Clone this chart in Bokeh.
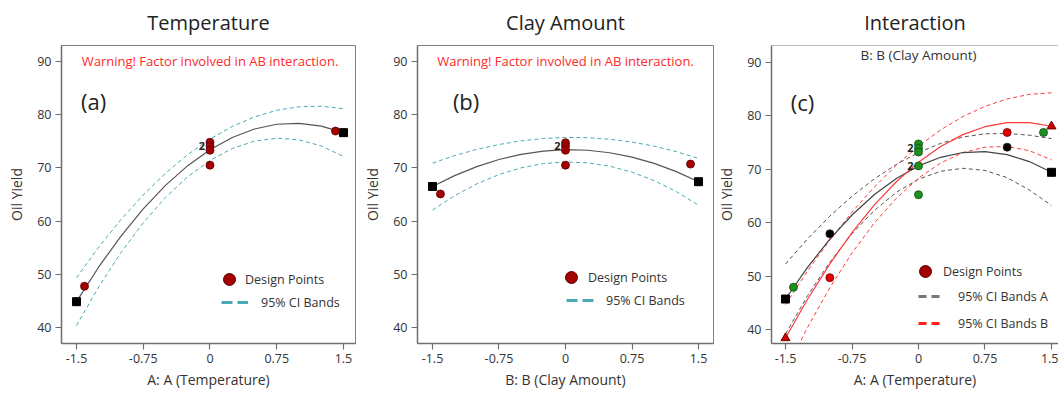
from bokeh.plotting import figure
from bokeh.layouts import row
from bokeh.models import Range1d, FixedTicker, Label, Legend, LegendItem, Span
from bokeh.core.properties import value
from bokeh.embed import file_html
from bokeh.resources import INLINE

FONT = "Open Sans"
NAN = float("nan")

# ---------------- data ----------------
x_grid = [-1.5, -1.25, -1.0, -0.75, -0.5, -0.25, 0.0, 0.25, 0.5, 0.75, 1.0, 1.25, 1.5]
x_ticks = [-1.5, -0.75, 0, 0.75, 1.5]
x_tick_labels = ["-1.5", "-0.75", "0", "0.75", "1.5"]
y_ticks = [40, 50, 60, 70, 80, 90]

# Panel (a) Temperature
a_fit = [44.90, 51.41, 57.21, 62.31, 66.71, 70.41, 73.40, 75.69, 77.28, 78.17, 78.35, 77.83, 76.61]
a_upper = [49.38, 55.13, 60.31, 64.93, 68.99, 72.48, 75.40, 77.76, 79.56, 80.79, 81.45, 81.55, 81.09]
a_lower = [40.43, 47.69, 54.11, 59.69, 64.44, 68.34, 71.40, 73.62, 75.01, 75.55, 75.25, 74.11, 72.14]
a_pts_x = [-1.41, 0, 0, 0, 0, 1.41]
a_pts_y = [47.8, 74.8, 74.1, 73.3, 70.5, 76.9]
a_end_x = [-1.5, 1.5]
a_end_y = [44.9, 76.6]
a_rep_x = [0]
a_rep_y = [74.1]
a_rep_n = ["2"]

# Panel (b) Clay Amount
b_fit = [66.49, 68.54, 70.23, 71.56, 72.53, 73.15, 73.40, 73.30, 72.83, 72.01, 70.83, 69.29, 67.39]
b_upper = [70.88, 72.29, 73.46, 74.38, 75.06, 75.51, 75.70, 75.66, 75.36, 74.83, 74.06, 73.04, 71.78]
b_lower = [62.10, 64.79, 67.00, 68.74, 70.00, 70.79, 71.10, 70.94, 70.30, 69.19, 67.60, 65.54, 63.00]
b_pts_x = [-1.41, 0, 0, 0, 0, 1.41]
b_pts_y = [65.1, 74.7, 74.1, 73.3, 70.5, 70.7]
b_end_x = [-1.5, 1.5]
b_end_y = [66.5, 67.4]
b_rep_x = [0]
b_rep_y = [74.1]
b_rep_n = ["2"]

# Panel (c) Interaction (black = B low, red = B high)
c_lo_fit = [45.70, 51.66, 56.90, 61.41, 65.20, 68.26, 70.60, 72.21, 73.10, 73.26, 72.70, 71.41, 69.40]
c_lo_upper = [52.25, 56.97, 61.20, 64.92, 68.15, 70.87, 73.10, 74.82, 76.00, 76.60, 76.65, 76.35, 75.70]
c_lo_lower = [39.15, 46.35, 52.60, 57.90, 62.25, 65.65, 68.10, 69.60, 70.15, 69.75, 68.40, 66.10, 63.20]
c_hi_fit = [38.41, 45.71, 52.28, 58.13, 63.25, 67.64, 71.30, 74.24, 76.45, 77.93, 78.68, 78.71, 78.01]
c_hi_upper = [44.67, 50.98, 56.73, 61.95, 66.61, 70.73, 74.30, 77.33, 79.81, 81.75, 83.13, 83.98, 84.27]
c_hi_lower = [32.15, 40.44, 47.83, 54.31, 59.89, 64.55, 68.30, 71.15, 73.09, 74.11, 74.23, 73.44, 71.75]
c_black_x = [-1.0, 1.0]
c_black_y = [57.9, 74.1]
c_red_x = [-1.0, 1.0]
c_red_y = [49.7, 76.85]
c_green_x = [-1.41, 0, 0, 0, 0, 0, 1.41]
c_green_y = [47.9, 74.7, 73.9, 73.2, 70.6, 65.2, 76.85]
c_sq_x = [-1.5, 1.5]
c_sq_y = [45.7, 69.4]
c_tri_x = [-1.5, 1.5]
c_tri_y = [38.4, 78.0]
c_rep_x = [0, 0]
c_rep_y = [73.9, 70.6]
c_rep_n = ["2", "2"]

# ---------------- styling ----------------
DARKRED = "#a50000"
TEAL = "#4aa9b6"
AXIS = "#6e6e6e"
TXT = "#333333"
WARN = "#ff2a2a"


def make_fig(width, left, right, xr, yr, title, xlabel):
    p = figure(width=width, height=393, x_range=Range1d(*xr), y_range=Range1d(*yr),
               output_backend="svg", toolbar_location=None,
               min_border_left=left, min_border_right=right,
               min_border_top=45, min_border_bottom=50)
    p.title.text = title
    p.title.align = "center"
    p.title.vertical_align = "top"
    p.title.standoff = 16
    p.title.text_font = FONT
    p.title.text_font_size = "20px"
    p.title.text_font_style = "normal"
    p.title.text_color = "#222222"
    p.xgrid.visible = False
    p.ygrid.visible = False
    p.outline_line_color = "#808080"
    p.outline_line_width = 1
    p.background_fill_color = "white"
    p.border_fill_color = "white"
    for ax in (p.xaxis[0], p.yaxis[0]):
        ax.axis_line_color = AXIS
        ax.axis_line_width = 1.5
        ax.major_tick_line_color = AXIS
        ax.major_tick_line_width = 1.2
        ax.major_tick_out = 6
        ax.major_tick_in = 0
        ax.minor_tick_line_color = None
        ax.major_label_text_font = FONT
        ax.major_label_text_font_size = "12.5px"
        ax.major_label_text_color = TXT
        ax.major_label_standoff = 4
        ax.axis_label_text_font = FONT
        ax.axis_label_text_font_size = "14px"
        ax.axis_label_text_font_style = "normal"
        ax.axis_label_text_color = TXT
    p.xaxis.ticker = FixedTicker(ticks=x_ticks)
    p.xaxis.major_label_overrides = {t: s for t, s in zip(x_ticks, x_tick_labels)}
    p.yaxis.ticker = FixedTicker(ticks=y_ticks)
    p.xaxis.axis_label = xlabel
    p.yaxis.axis_label = "Oil Yield"
    p.xaxis.axis_label_standoff = 4
    p.yaxis.axis_label_standoff = 8
    return p


def add_legend(p, renderer, label, loc, gw, gh, standoff):
    lg = Legend(items=[LegendItem(label=label, renderers=[renderer])], location=loc,
                glyph_width=gw, glyph_height=gh, label_standoff=standoff,
                padding=0, margin=0, spacing=0, border_line_color=None,
                background_fill_alpha=0, label_text_font=FONT,
                label_text_font_size="12.5px", label_text_color=TXT, label_height=20)
    p.add_layout(lg)


def legend_dot(p, fill, line):
    # swatch-only renderer: a single NaN point, never drawn in the plot area
    return p.scatter([NAN], [NAN], marker="circle", fill_color=fill, line_color=line, line_width=1)


def legend_dash(p, color, dash):
    return p.line([NAN, NAN], [NAN, NAN], line_color=color, line_width=3, line_dash=dash)


def design_points(p, xs, ys, fill, line):
    p.scatter(xs, ys, marker="circle", size=8, fill_color=fill, line_color=line, line_width=0.8)


def rep_labels(p, xs, ys, ns):
    p.text(xs, ys, text=ns, text_align="right", text_baseline="middle", x_offset=-5,
           text_font=value(FONT), text_font_style="bold", text_font_size="11px", text_color="#222222")


def warning(p):
    p.add_layout(Label(x=0, y=90.1, text="Warning! Factor involved in AB interaction.",
                       text_align="center", text_baseline="middle", text_color=WARN,
                       text_font=FONT, text_font_size="13px"))


def tag(p, x, y, t):
    p.add_layout(Label(x=x, y=y, text=t, text_align="left", text_baseline="middle",
                       text_color="#222222", text_font=FONT, text_font_size="22px"))


# ---------------- panel (a) ----------------
pa = make_fig(356, 61, 1, (-1.6685, 1.635), (37.06, 92.94), "Temperature", "A: A (Temperature)")
pa.line(x_grid, a_upper, line_color=TEAL, line_width=1, line_dash="4 3")
pa.line(x_grid, a_lower, line_color=TEAL, line_width=1, line_dash="4 3")
pa.line(x_grid, a_fit, line_color="#555555", line_width=1.2)
pa.scatter(a_end_x, a_end_y, marker="square", size=8, fill_color="black", line_color="black")
design_points(pa, a_pts_x, a_pts_y, DARKRED, "#5a0000")
rep_labels(pa, a_rep_x, a_rep_y, a_rep_n)
warning(pa)
tag(pa, -1.45, 82.6, "(a)")
add_legend(pa, legend_dot(pa, DARKRED, "#5a0000"), "Design Points", (153, 49), 30, 30, 1)
add_legend(pa, legend_dash(pa, TEAL, "11 5"), "95% CI Bands", (160, 31), 27, 20, 13)

# ---------------- panel (b) ----------------
pb = make_fig(358, 61, 1, (-1.669, 1.669), (37.06, 92.94), "Clay Amount", "B: B (Clay Amount)")
pb.line(x_grid, b_upper, line_color=TEAL, line_width=1, line_dash="4 3")
pb.line(x_grid, b_lower, line_color=TEAL, line_width=1, line_dash="4 3")
pb.line(x_grid, b_fit, line_color="#555555", line_width=1.2)
pb.scatter(b_end_x, b_end_y, marker="square", size=8, fill_color="black", line_color="black")
design_points(pb, b_pts_x, b_pts_y, DARKRED, "#5a0000")
rep_labels(pb, b_rep_x, b_rep_y, b_rep_n)
warning(pb)
tag(pb, -1.27, 82.6, "(b)")
add_legend(pb, legend_dot(pb, DARKRED, "#5a0000"), "Design Points", (139, 51), 30, 30, 2)
add_legend(pb, legend_dash(pb, TEAL, "11 5"), "95% CI Bands", (149, 33), 28, 20, 12)

# ---------------- panel (c) ----------------
C_TOP = 93.12
pc = make_fig(344, 57, 0, (-1.658, 1.579), (37.38, C_TOP), "Interaction", "A: A (Temperature)")
pc.title.offset = -10
pc.outline_line_color = None
pc.add_layout(Span(location=C_TOP, dimension="width", line_color="#808080", line_width=1))
BLKD = "#555555"
REDL = "#ff3b3b"
pc.line(x_grid, c_lo_upper, line_color=BLKD, line_width=1, line_dash="4 3")
pc.line(x_grid, c_lo_lower, line_color=BLKD, line_width=1, line_dash="4 3")
pc.line(x_grid, c_hi_upper, line_color=REDL, line_width=1, line_dash="4 3")
pc.line(x_grid, c_hi_lower, line_color=REDL, line_width=1, line_dash="4 3")
pc.line(x_grid, c_lo_fit, line_color="#444444", line_width=1.2)
pc.line(x_grid, c_hi_fit, line_color=REDL, line_width=1.2)
pc.scatter(c_sq_x, c_sq_y, marker="square", size=8, fill_color="black", line_color="black")
pc.scatter(c_tri_x, c_tri_y, marker="triangle", size=9, fill_color="#d00000", line_color="#7a0000")
design_points(pc, c_black_x, c_black_y, "black", "#222222")
design_points(pc, c_red_x, c_red_y, "#e00000", "#7a0000")
design_points(pc, c_green_x, c_green_y, "#1f8f1f", "#0b4d0b")
rep_labels(pc, c_rep_x, c_rep_y, c_rep_n)
pc.add_layout(Label(x=0, y=91.25, text="B: B (Clay Amount)", text_align="center",
                    text_baseline="middle", text_color=TXT, text_font=FONT,
                    text_font_size="13.5px"))
tag(pc, -1.44, 82.5, "(c)")
add_legend(pc, legend_dot(pc, DARKRED, "#5a0000"), "Design Points", (139, 57), 30, 30, 3)
add_legend(pc, legend_dash(pc, "#777777", "8 5"), "95% CI Bands A", (147, 37), 22, 20, 18)
add_legend(pc, legend_dash(pc, "#ff2020", "8 5"), "95% CI Bands B", (147, 10), 22, 20, 18)

layout = row(pa, pb, pc)
open("out.html", "w").write(file_html(layout, INLINE))
